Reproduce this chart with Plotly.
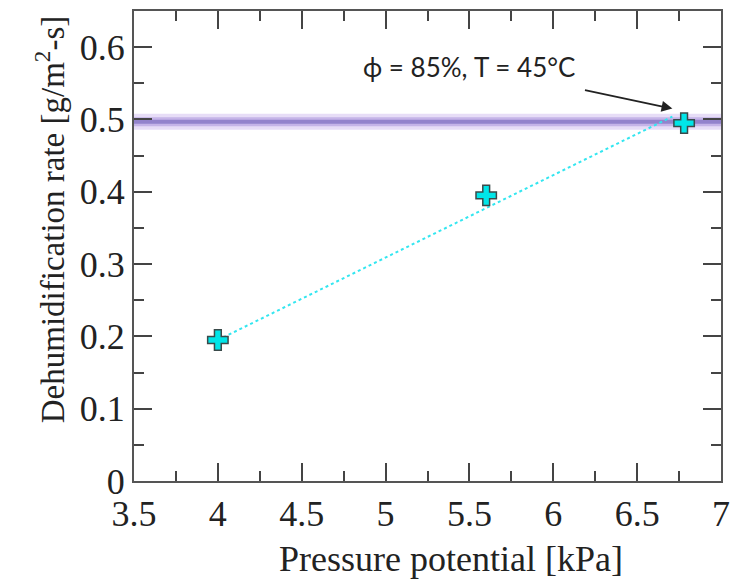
import plotly.graph_objects as go

# Data
pressure = [4.0, 5.6, 6.78]
rate = [0.195, 0.395, 0.495]
fit_x = [4.0, 6.71]
fit_y = [0.195, 0.504]
band_x = [3.5, 7.0]
band_y = [0.497, 0.497]
x_ticks = [3.5, 4, 4.5, 5, 5.5, 6, 6.5, 7]
x_tick_labels = ["3.5", "4", "4.5", "5", "5.5", "6", "6.5", "7"]
y_ticks = [0, 0.1, 0.2, 0.3, 0.4, 0.5, 0.6]
y_tick_labels = ["0", "0.1", "0.2", "0.3", "0.4", "0.5", "0.6"]
note_text = "ϕ = 85%, T = 45°C"

SERIF = "Liberation Serif, Times New Roman, serif"

fig = go.Figure()

# purple band (wide light + darker core)
fig.add_trace(go.Scatter(x=band_x, y=band_y, mode="lines",
                         line=dict(color="rgba(195,170,235,0.40)", width=16),
                         hoverinfo="skip", showlegend=False))
fig.add_trace(go.Scatter(x=band_x, y=band_y, mode="lines",
                         line=dict(color="rgba(170,145,220,0.55)", width=9),
                         hoverinfo="skip", showlegend=False))
fig.add_trace(go.Scatter(x=band_x, y=band_y, mode="lines",
                         line=dict(color="rgba(130,115,195,0.75)", width=4),
                         hoverinfo="skip", showlegend=False))

# fit line
fig.add_trace(go.Scatter(x=fit_x, y=fit_y, mode="lines",
                         line=dict(color="#33e6f0", width=2, dash="dot"),
                         showlegend=False))

# markers
fig.add_trace(go.Scatter(x=pressure, y=rate, mode="markers",
                         marker=dict(symbol="cross", size=17, color="#00e5e8",
                                     line=dict(color="#3a4a4a", width=1.5)),
                         showlegend=False))

axis_common = dict(showgrid=False, zeroline=False, showline=True,
                   linecolor="#555555", linewidth=2, mirror="ticks",
                   ticks="inside", ticklen=18, tickwidth=1.5, tickcolor="#444444",
                   tickfont=dict(family=SERIF, size=36, color="#222222"))

fig.update_xaxes(range=[3.5, 7.0], tickvals=x_ticks, ticktext=x_tick_labels,
                 minor=dict(ticks="inside", ticklen=10, dtick=0.25, tick0=3.5,
                            tickcolor="#444444", tickwidth=1.5),
                 **axis_common)
fig.update_yaxes(range=[0, 0.65], tickvals=y_ticks, ticktext=y_tick_labels,
                 minor=dict(ticks="inside", ticklen=10, dtick=0.05, tick0=0,
                            tickcolor="#444444", tickwidth=1.5),
                 **axis_common)

# axis titles as annotations
fig.add_annotation(text="Pressure potential [kPa]", xref="paper", yref="paper",
                   x=0.54, y=-0.166, showarrow=False, xanchor="center", yanchor="middle",
                   font=dict(family=SERIF, size=36, color="#222222"))
fig.add_annotation(text="Dehumidification rate [g/m<sup>2</sup>-s]", xref="paper", yref="paper",
                   x=-0.143, y=0.555, textangle=-90, showarrow=False,
                   xanchor="center", yanchor="middle",
                   font=dict(family=SERIF, size=33, color="#222222"))

# note and arrow
fig.add_annotation(text=note_text, x=5.5, y=0.573, xref="x", yref="y",
                   showarrow=False, xanchor="center", yanchor="middle",
                   font=dict(family="Lato, Open Sans, sans-serif", size=26, color="#222222"))
fig.add_annotation(text="", x=6.71, y=0.515, ax=6.18, ay=0.541, xref="x", yref="y",
                   axref="x", ayref="y", showarrow=True, arrowhead=2, arrowsize=1.2,
                   arrowwidth=1.8, arrowcolor="#222222")

# page has an 8px body margin; size/margins compensate so the plot lands where the reference has it
fig.update_layout(width=735, height=576, plot_bgcolor="white", paper_bgcolor="white",
                  margin=dict(l=126, r=22, t=1, b=103))

fig.write_html("out.html")
